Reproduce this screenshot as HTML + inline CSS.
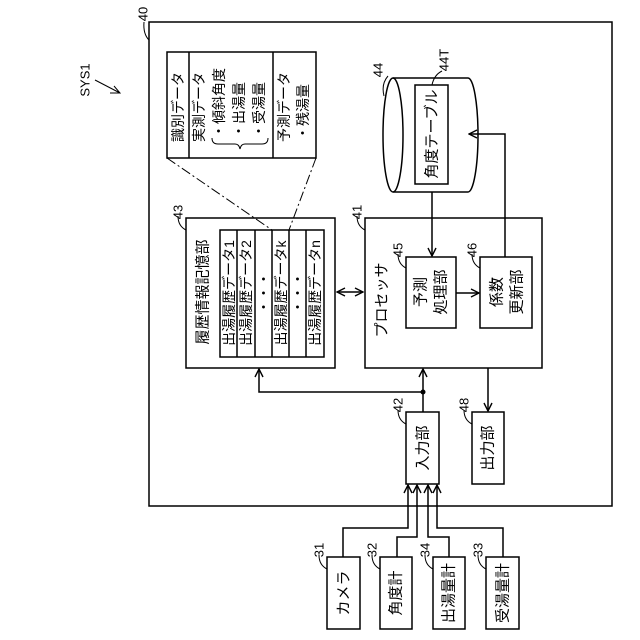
<!DOCTYPE html>
<html><head><meta charset="utf-8"><style>
html,body{margin:0;padding:0;background:#fff}
svg{display:block}
text{font-family:"Liberation Sans","Noto Sans CJK JP",sans-serif;fill:#000}
</style></head><body>
<svg width="640" height="640" viewBox="0 0 640 640" xmlns="http://www.w3.org/2000/svg">
<defs>
<marker id="a" markerWidth="10" markerHeight="10" refX="9" refY="5" orient="auto" markerUnits="userSpaceOnUse">
<path d="M1,1 L9,5 L1,9" fill="none" stroke="#000" stroke-width="1.4"/>
</marker>
<marker id="as" markerWidth="10" markerHeight="10" refX="1" refY="5" orient="auto" markerUnits="userSpaceOnUse">
<path d="M9,1 L1,5 L9,9" fill="none" stroke="#000" stroke-width="1.4"/>
</marker>
</defs>
<g fill="none" stroke="#000" stroke-width="1.5">
<rect x="149" y="22" width="463" height="484"/>
<rect x="167" y="52" width="149" height="106"/>
<line x1="189" y1="52" x2="189" y2="158"/>
<line x1="273" y1="52" x2="273" y2="158"/>
<path d="M212,138 q0,6 6,6 h17 q4,0 5,5 q1,-5 5,-5 h17 q6,0 6,-6" stroke-width="1"/>
<line x1="167" y1="158" x2="272" y2="230" stroke-dasharray="10,3,2,3" stroke-width="1"/>
<line x1="316" y1="158" x2="289" y2="230" stroke-dasharray="10,3,2,3" stroke-width="1"/>
<rect x="186" y="218" width="149" height="150"/>
<rect x="220" y="230" width="104" height="127"/>
<line x1="237" y1="230" x2="237" y2="357"/>
<line x1="255" y1="230" x2="255" y2="357"/>
<line x1="272" y1="230" x2="272" y2="357"/>
<line x1="289" y1="230" x2="289" y2="357"/>
<line x1="306" y1="230" x2="306" y2="357"/>
<line x1="337" y1="292" x2="363" y2="292" marker-end="url(#a)" marker-start="url(#as)"/>
<rect x="365" y="218" width="177" height="150"/>
<rect x="406" y="257" width="50" height="71"/>
<rect x="480" y="257" width="52" height="71"/>
<line x1="456" y1="293" x2="479" y2="293" marker-end="url(#a)"/>
<path d="M393,78 H468 A10,57 0 0 1 468,192 H393"/>
<ellipse cx="393" cy="135" rx="10" ry="57"/>
<rect x="415" y="85" width="33" height="99"/>
<line x1="432" y1="192" x2="432" y2="256" marker-end="url(#a)"/>
<path d="M505,257 V134 H469" marker-end="url(#a)"/>
<rect x="406" y="412" width="33" height="72"/>
<rect x="472" y="412" width="32" height="72"/>
<line x1="423" y1="412" x2="423" y2="369" marker-end="url(#a)"/>
<path d="M423,392 H259 V369" marker-end="url(#a)"/>
<line x1="488" y1="368" x2="488" y2="411" marker-end="url(#a)"/>
<rect x="327" y="557" width="33" height="72"/>
<rect x="380" y="557" width="32" height="72"/>
<rect x="433" y="557" width="32" height="72"/>
<rect x="486" y="557" width="33" height="72"/>
<path d="M343,557 V528 H408 V485" marker-end="url(#a)"/>
<path d="M397,557 V537 H417 V485" marker-end="url(#a)"/>
<path d="M449,557 V537 H428 V485" marker-end="url(#a)"/>
<path d="M503,557 V528 H437 V485" marker-end="url(#a)"/>
<path d="M149,40 q-6,-6 -5,-18" stroke-width="1"/>
<path d="M95,80 L120,93 M110,93 L120,93 L114,86" stroke-width="1"/>
<path d="M186,230 q-8,-4 -8,-14" stroke-width="1"/>
<path d="M365,230 q-8,-4 -8,-14" stroke-width="1"/>
<path d="M406,268 q-8,-4 -8,-14" stroke-width="1"/>
<path d="M480,268 q-8,-4 -8,-14" stroke-width="1"/>
<path d="M384,96 q-3,-12 4,-20" stroke-width="1"/>
<path d="M432,85 q2,-10 10,-14" stroke-width="1"/>
<path d="M406,424 q-8,-4 -8,-14" stroke-width="1"/>
<path d="M472,424 q-8,-4 -8,-14" stroke-width="1"/>
<path d="M327,569 q-8,-4 -8,-14" stroke-width="1"/>
<path d="M380,569 q-8,-4 -8,-14" stroke-width="1"/>
<path d="M433,569 q-8,-4 -8,-14" stroke-width="1"/>
<path d="M486,569 q-8,-4 -8,-14" stroke-width="1"/>
</g>
<circle cx="423" cy="392" r="2.5" fill="#000"/>
<g font-size="14" text-anchor="middle" dominant-baseline="central">
<text transform="translate(178,107) rotate(-90)">識別データ</text>
<text transform="translate(199,107) rotate(-90)">実測データ</text>
<text transform="translate(219,103) rotate(-90)">・傾斜角度</text>
<text transform="translate(239,110) rotate(-90)">・出湯量</text>
<text transform="translate(259,110) rotate(-90)">・受湯量</text>
<text transform="translate(284,107) rotate(-90)">予測データ</text>
<text transform="translate(303,112) rotate(-90)">・残湯量</text>
<text transform="translate(203,292) rotate(-90)" font-size="15">履歴情報記憶部</text>
<text transform="translate(229,293) rotate(-90)">出湯履歴データ1</text>
<text transform="translate(246,293) rotate(-90)">出湯履歴データ2</text>
<text transform="translate(264,293) rotate(-90)">・・・</text>
<text transform="translate(281,293) rotate(-90)">出湯履歴データk</text>
<text transform="translate(298,293) rotate(-90)">・・・</text>
<text transform="translate(315,293) rotate(-90)">出湯履歴データn</text>
<text transform="translate(382,300) rotate(-90)" font-size="15">プロセッサ</text>
<text transform="translate(421,292) rotate(-90)" font-size="15">予測</text>
<text transform="translate(441,292) rotate(-90)" font-size="15">処理部</text>
<text transform="translate(497,292) rotate(-90)" font-size="15">係数</text>
<text transform="translate(517,292) rotate(-90)" font-size="15">更新部</text>
<text transform="translate(432,134) rotate(-90)" font-size="15">角度テーブル</text>
<text transform="translate(423,448) rotate(-90)" font-size="15">入力部</text>
<text transform="translate(488,448) rotate(-90)" font-size="15">出力部</text>
<text transform="translate(344,593) rotate(-90)" font-size="15">カメラ</text>
<text transform="translate(396,593) rotate(-90)" font-size="15">角度計</text>
<text transform="translate(449,593) rotate(-90)" font-size="15">出湯量計</text>
<text transform="translate(503,593) rotate(-90)" font-size="15">受湯量計</text>
<text transform="translate(85,80) rotate(-90)" font-size="13">SYS1</text>
<text transform="translate(143,14) rotate(-90)" font-size="13">40</text>
<text transform="translate(178,212) rotate(-90)" font-size="13">43</text>
<text transform="translate(357,212) rotate(-90)" font-size="13">41</text>
<text transform="translate(398,250) rotate(-90)" font-size="13">45</text>
<text transform="translate(472,250) rotate(-90)" font-size="13">46</text>
<text transform="translate(378,70) rotate(-90)" font-size="13">44</text>
<text transform="translate(444,60) rotate(-90)" font-size="13">44T</text>
<text transform="translate(398,405) rotate(-90)" font-size="13">42</text>
<text transform="translate(464,405) rotate(-90)" font-size="13">48</text>
<text transform="translate(319,550) rotate(-90)" font-size="13">31</text>
<text transform="translate(372,550) rotate(-90)" font-size="13">32</text>
<text transform="translate(425,550) rotate(-90)" font-size="13">34</text>
<text transform="translate(478,550) rotate(-90)" font-size="13">33</text>
</g>
</svg>
</body></html>
